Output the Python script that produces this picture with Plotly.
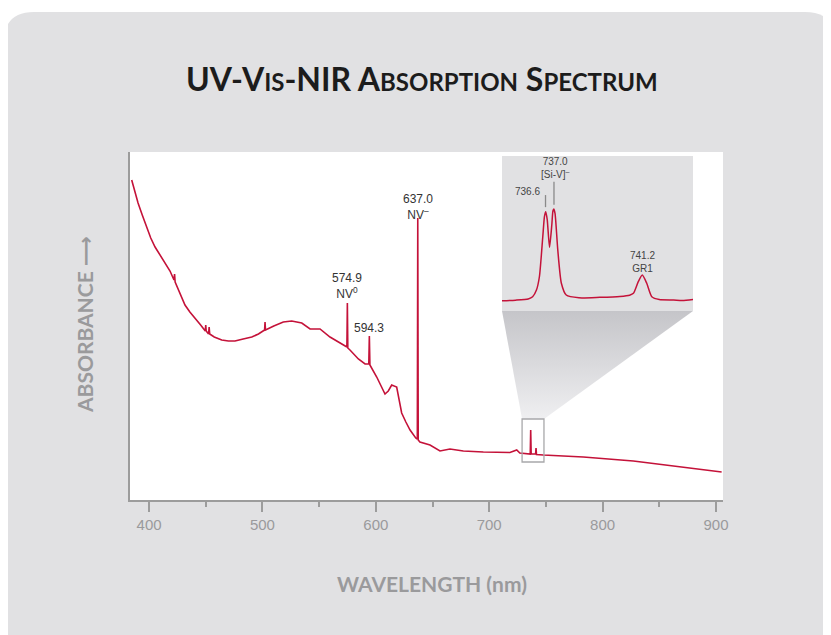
import plotly.graph_objects as go

# ---- main spectrum (wavelength nm, absorbance a.u.) ----
wavelength = [
    384.7, 387.5, 390.3, 394.0, 398.0, 401.5, 405.3, 409.8, 414.1, 418.5,
    422.0, 422.5, 423.0, 427.0, 431.7, 436.0, 440.6, 445.5, 449.6, 450.0,
    450.4, 452.5, 453.0, 453.5, 457.5, 464.1, 470.0, 475.8, 483.0, 490.6,
    496.5, 501.9, 502.3, 502.7, 510.0, 518.4, 525.8, 534.7, 542.0, 550.8,
    559.6, 568.4, 573.7, 574.5, 574.9, 575.3, 577.2, 584.6, 590.5, 593.8,
    594.3, 594.8, 600.8, 604.5, 608.1, 611.0, 614.0, 618.4, 622.8, 626.5,
    630.2, 635.2, 636.6, 637.0, 637.4, 638.9, 647.8, 656.6, 665.4, 677.2,
    694.8, 718.3, 722.0, 724.3, 727.0, 733.1, 736.2, 736.6, 737.0, 738.5,
    740.9, 741.3, 741.7, 747.7, 783.0, 827.1, 871.2, 905.0,
]
absorbance = [
    3.20, 3.08, 2.97, 2.85, 2.73, 2.62, 2.53, 2.45, 2.38, 2.29,
    2.20, 2.26, 2.18, 2.07, 1.95, 1.88, 1.82, 1.75, 1.69, 1.75,
    1.69, 1.66, 1.73, 1.66, 1.63, 1.60, 1.59, 1.59, 1.61, 1.63,
    1.66, 1.70, 1.78, 1.70, 1.74, 1.78, 1.79, 1.77, 1.71, 1.71,
    1.63, 1.57, 1.54, 1.53, 1.97, 1.52, 1.50, 1.41, 1.36, 1.36,
    1.64, 1.35, 1.23, 1.15, 1.06, 1.09, 1.15, 1.13, 0.87, 0.78,
    0.70, 0.62, 0.61, 2.82, 0.60, 0.58, 0.55, 0.49, 0.51, 0.49,
    0.48, 0.475, 0.49, 0.50, 0.47, 0.46, 0.46, 0.70, 0.46, 0.46,
    0.46, 0.52, 0.455, 0.45, 0.43, 0.39, 0.33, 0.28,
]

# ---- inset: zoom on the 736-742 nm region ----
inset_wavelength = [
    734.56, 735.2, 735.8, 736.01, 736.19, 736.33, 736.49, 736.57, 736.63,
    736.70, 736.81, 736.92, 736.97, 737.01, 737.07, 737.20, 737.37, 737.60,
    738.2, 739.19, 740.14, 740.60, 740.78, 741.01, 741.20, 741.41, 741.65,
    742.0, 742.68, 743.1, 743.60,
]
inset_absorbance = [
    0.066, 0.070, 0.078, 0.092, 0.135, 0.221, 0.479, 0.610, 0.641,
    0.590, 0.411, 0.560, 0.645, 0.658, 0.630, 0.394, 0.179, 0.103,
    0.085, 0.088, 0.094, 0.102, 0.114, 0.189, 0.232, 0.179, 0.092,
    0.074, 0.071, 0.068, 0.075,
]

main_labels = [
    (637.0, 2.93, "637.0<br>NV<sup>–</sup>"),
    (574.9, 2.14, "574.9<br>NV<sup>0</sup>"),
    (594.3, 1.72, "594.3"),
]
inset_labels = [
    (736.45, 0.77, "736.6", "right"),
    (737.05, 0.923, "737.0<br>[Si-V]<sup>–</sup>", "center"),
    (741.2, 0.315, "741.2<br>GR1", "center"),
]
inset_pointers = [(736.62, 0.748, 0.67), (737.02, 0.834, 0.685)]
zoom_box = dict(x0=729.0, x1=748.3, y0=0.38, y1=0.81)

# page pixel layout (the html body adds an 8px margin around the figure)
OFF = 8
PAGE_W, PAGE_H = 831, 635
W, H = PAGE_W - OFF, PAGE_H - OFF
L, R, T, B = 130, 723, 152, 500
X_RANGE = [383.2, 906.2]
Y_RANGE = [0, 3.48]
INSET = dict(left=502, right=693, top=156, bottom=311)
LINE_RED = "#c41239"
CARD = "#e1e1e3"
AXIS_GREY = "#9c9c9c"
LABEL_FONT = "Liberation Sans, Arial, sans-serif"


def px(x, y):
    """Page pixel position -> paper coordinates string."""
    return f"{(x - L) / (R - L):.4f},{(B - y) / (B - T):.4f}"


def px_to_data(x, y):
    wl = X_RANGE[0] + (x - L) / (R - L) * (X_RANGE[1] - X_RANGE[0])
    a = Y_RANGE[0] + (B - y) / (B - T) * (Y_RANGE[1] - Y_RANGE[0])
    return wl, a


fig = go.Figure()

# trapezoid connecting zoom box to inset
tl = px_to_data(INSET["left"], INSET["bottom"])
tr = px_to_data(INSET["right"], INSET["bottom"])
fig.add_trace(go.Scatter(
    x=[tl[0], tr[0], zoom_box["x1"], zoom_box["x0"], tl[0]],
    y=[tl[1], tr[1], zoom_box["y1"], zoom_box["y1"], tl[1]],
    mode="lines", line=dict(width=0), fill="toself",
    fillgradient=dict(type="vertical", colorscale=[[0, "#efeff1"], [1, "#c5c5c9"]]),
    hoverinfo="skip", showlegend=False,
))

fig.add_trace(go.Scatter(
    x=wavelength, y=absorbance, mode="lines",
    line=dict(color=LINE_RED, width=1.6), showlegend=False,
))

fig.add_trace(go.Scatter(
    x=inset_wavelength, y=inset_absorbance, mode="lines",
    line=dict(color=LINE_RED, width=1.5, shape="spline", smoothing=0.6),
    xaxis="x2", yaxis="y2", showlegend=False,
))

shapes = [
    # rounded grey card
    dict(type="path", xref="paper", yref="paper", layer="below",
         path=(f"M{px(4, 645)} L{px(4, 42)} Q{px(4, 12)} {px(34, 12)} "
               f"L{px(805, 12)} Q{px(835, 12)} {px(835, 42)} L{px(835, 645)} Z"),
         fillcolor=CARD, line=dict(width=0)),
    # white plot area
    dict(type="rect", xref="paper", yref="paper", layer="below",
         x0=0, x1=1, y0=0, y1=1, fillcolor="white", line=dict(width=0)),
    # inset background
    dict(type="rect", xref="paper", yref="paper", layer="below",
         x0=(INSET["left"] - L) / (R - L), x1=(INSET["right"] - L) / (R - L),
         y0=(B - INSET["bottom"]) / (B - T), y1=(B - INSET["top"]) / (B - T),
         fillcolor=CARD, line=dict(width=0)),
    # zoom marker box
    dict(type="rect", xref="x", yref="y", **zoom_box,
         line=dict(color="#a8a8aa", width=1.3)),
]
for x, y0, y1 in inset_pointers:
    shapes.append(dict(type="line", xref="x2", yref="y2", x0=x, x1=x, y0=y0, y1=y1,
                       line=dict(color="#8a8a8a", width=1.3)))

annotations = []
for x, y, text in main_labels:
    annotations.append(dict(x=x, y=y, xref="x", yref="y", text=text, showarrow=False,
                            xanchor="center", yanchor="middle",
                            font=dict(family=LABEL_FONT, size=12, color="#333333")))
for x, y, text, anchor in inset_labels:
    annotations.append(dict(x=x, y=y, xref="x2", yref="y2", text=text, showarrow=False,
                            xanchor=anchor, yanchor="middle",
                            font=dict(family=LABEL_FONT, size=10, color="#444444")))

small = "<span style='font-size:24px'>"
title = (f"UV-V{small}IS</span>-NIR A{small}BSORPTION</span> "
         f"S{small}PECTRUM</span>")
annotations.append(dict(x=(422 - L) / (R - L), y=(B - 78) / (B - T), xref="paper", yref="paper",
                        text=title, showarrow=False, xanchor="center", yanchor="middle",
                        font=dict(family="Lato, sans-serif", size=32, color="#1c1c1c",
                                  weight="bold")))
annotations.append(dict(x=(432 - L) / (R - L), y=(B - 583) / (B - T), xref="paper", yref="paper",
                        text="WAVELENGTH (nm)", showarrow=False,
                        xanchor="center", yanchor="middle",
                        font=dict(family="Lato, sans-serif", size=21, color="#9a9a9c",
                                  weight="bold")))
annotations.append(dict(x=(84 - L) / (R - L), y=(B - 325) / (B - T), xref="paper", yref="paper",
                        text="ABSORBANCE ⟶", showarrow=False, textangle=-90,
                        xanchor="center", yanchor="middle",
                        font=dict(family="Lato, DejaVu Sans, sans-serif", size=21,
                                  color="#9a9a9c", weight="bold")))

fig.update_layout(
    width=W, height=H,
    margin=dict(l=L - OFF, r=W - (R - OFF), t=T - OFF, b=H - (B - OFF), pad=0),
    paper_bgcolor="white", plot_bgcolor="rgba(0,0,0,0)",
    xaxis=dict(range=X_RANGE, tickvals=[400, 500, 600, 700, 800, 900],
               ticks="outside", ticklen=10, tickwidth=1.5, tickcolor=AXIS_GREY,
               minor=dict(tickvals=[450, 550, 650, 750, 850], ticks="outside",
                          ticklen=5, tickwidth=1.5, tickcolor=AXIS_GREY),
               showline=True, linecolor=AXIS_GREY, linewidth=2, showgrid=False,
               zeroline=False, tickfont=dict(family=LABEL_FONT, size=15, color="#9a9a9c")),
    yaxis=dict(range=Y_RANGE, showticklabels=False, ticks="", showline=True,
               linecolor=AXIS_GREY, linewidth=2, showgrid=False, zeroline=False),
    xaxis2=dict(domain=[(INSET["left"] - L) / (R - L), (INSET["right"] - L) / (R - L)],
                range=[734.56, 743.6], anchor="y2", visible=False),
    yaxis2=dict(domain=[(B - INSET["bottom"]) / (B - T), (B - INSET["top"]) / (B - T)],
                range=[0, 1], anchor="x2", visible=False),
    shapes=shapes,
    annotations=annotations,
    showlegend=False,
)

fig.write_html("out.html")
